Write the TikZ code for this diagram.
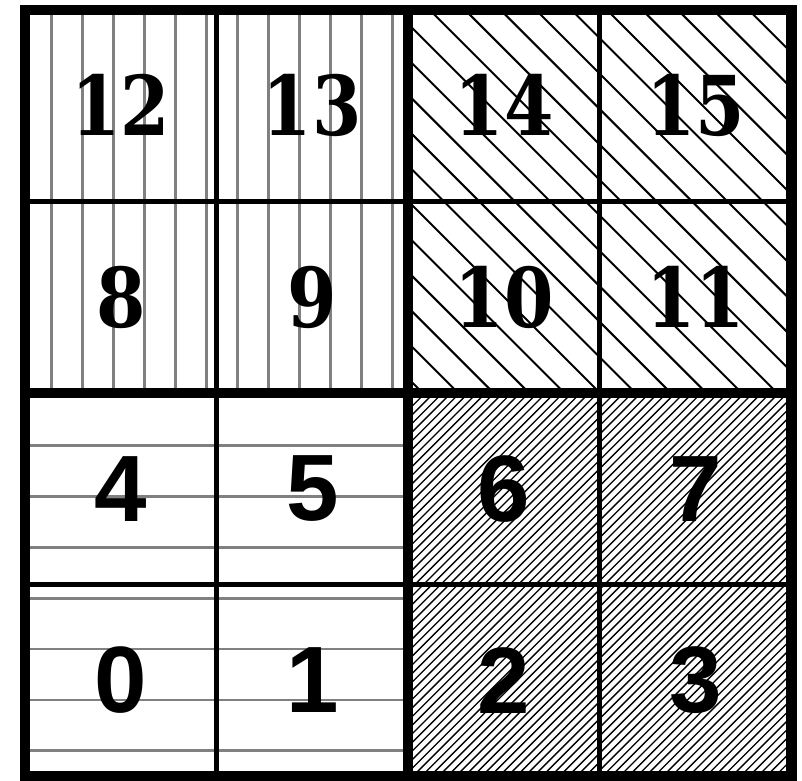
\documentclass[tikz,border=0pt]{standalone}
\usepackage{fontspec}
\newfontfamily\numserif[FakeStretch=0.86]{DejaVu Serif}
\newfontfamily\numsans{Liberation Sans}
\begin{document}
\begin{tikzpicture}[
        thinline/.style={line width=1.4pt},
        thickline/.style={line width=3pt},
        topnum/.style={font=\numserif\bfseries\fontsize{24.5}{30}\selectfont},
        botnum/.style={font=\numsans\bfseries\fontsize{28}{32}\selectfont},
        grayhatch/.style={gray, line width=0.8pt},
        blackhatch/.style={black, line width=0.6pt}
    ]
        \useasboundingbox (-0.26,-0.05) rectangle (8.11,8.10);

        % top left: vertical lines
        \begin{scope}
            \clip (0,4) rectangle (4,8);
            \foreach \k in {0,...,11}
                \draw[grayhatch] ({0.28+0.323*\k},4) -- ++(0,4);
        \end{scope}
        % bottom left: horizontal lines
        \begin{scope}
            \clip (0,0) rectangle (4,4);
            \foreach \k in {0,...,6}
                \draw[grayhatch] (0,{3.45-0.531*\k}) -- ++(4,0);
        \end{scope}
        % top right: wide north west lines
        \begin{scope}
            \clip (4,4) rectangle (8,8);
            \foreach \k in {0,...,21}
                \draw[blackhatch] ({8.15+0.37*\k-8},8) -- ++(4.5,-4.5);
        \end{scope}
        % bottom right: dense north east lines
        \begin{scope}
            \clip (4,0) rectangle (8,4);
            \foreach \k in {0,...,90}
                \draw[blackhatch, line width=0.4pt] ({0.09*\k},0) -- ++(4.2,4.2);
        \end{scope}

        % cell grid
        \draw[thinline] (2,0) -- (2,8) (6,0) -- (6,8) (0,2) -- (8,2) (0,6) -- (8,6);
        \draw[thickline] (4,0) -- (4,8) (0,4) -- (8,4);
        \draw[thickline] (0,0) rectangle (8,8);

        % cell numbers
        \foreach \i in {0,...,7}
            \node[botnum] (n\i) at ({2*mod(\i,4)+1},{2*div(\i,4)+1}) {\i};
        \foreach \i in {8,...,15}
            \node[topnum] (n\i) at ({2*mod(\i,4)+1},{2*div(\i,4)+1}) {\i};
    \end{tikzpicture}
\end{document}
